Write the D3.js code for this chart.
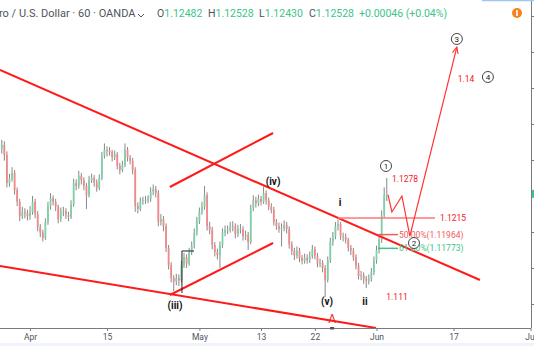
<!DOCTYPE html>
<html>
<head>
<meta charset="utf-8">
<script src="https://cdn.jsdelivr.net/npm/d3@7"></script>
<style>
  body { margin: 0; background: #fff; }
  svg { display: block; font-family: Roboto, "Noto Sans", sans-serif; }
</style>
</head>
<body>
<div id="chart"></div>
<script>
// EUR/USD 60 min, one candle here = 8 hours
const firstOpen = 1.1315;
const closes = [
  1.1321, 1.1307, 1.1268, 1.1274, 1.1282, 1.1258, 1.1242, 1.1222, 1.1228, 1.1226,
  1.1222, 1.1228, 1.1242, 1.1225, 1.1207, 1.1199, 1.1192, 1.1214, 1.1236, 1.1247,
  1.1242, 1.1235, 1.1218, 1.1228, 1.1229, 1.1224, 1.1221, 1.1238, 1.1268, 1.1264,
  1.1278, 1.1272, 1.1264, 1.1251, 1.1272, 1.1275, 1.1269, 1.1261, 1.1275, 1.1306,
  1.1314, 1.1313, 1.1311, 1.1304, 1.1308, 1.1292, 1.1286, 1.1293, 1.1314, 1.1303,
  1.1299, 1.1286, 1.1236, 1.1232, 1.1243, 1.1244, 1.1244, 1.1246, 1.1256, 1.1260,
  1.1254, 1.1214, 1.1218, 1.1208, 1.1178, 1.1154, 1.1136, 1.1131, 1.1136, 1.1133,
  1.1154, 1.1165, 1.1156, 1.1172, 1.1181, 1.1199, 1.1215, 1.1228, 1.1235, 1.1251,
  1.1208, 1.1203, 1.1182, 1.1172, 1.1168, 1.1182, 1.1199, 1.1203, 1.1203, 1.1207,
  1.1208, 1.1197, 1.1204, 1.1204, 1.1194, 1.1196, 1.1186, 1.1233, 1.1244, 1.1240,
  1.1246, 1.1242, 1.1254, 1.1244, 1.1235, 1.1231, 1.1214, 1.1208, 1.1204, 1.1206,
  1.1210, 1.1204, 1.1183, 1.1174, 1.1167, 1.1174, 1.1164, 1.1160, 1.1164, 1.1161,
  1.1167, 1.1176, 1.1167, 1.1156, 1.1157, 1.1150, 1.1133, 1.1161, 1.1186, 1.1194,
  1.1208, 1.1211, 1.1194, 1.1193, 1.1189, 1.1178, 1.1174, 1.1165, 1.1153, 1.1139,
  1.1140, 1.1135, 1.1132, 1.1135, 1.1144, 1.1161, 1.1175, 1.1189, 1.1224, 1.1251,
  1.1253
];
const highs = [
  1.1328, 1.1326, 1.1312, 1.1281, 1.1290, 1.1286, 1.1262, 1.1246, 1.1235, 1.1233,
  1.1231, 1.1236, 1.1250, 1.1246, 1.1229, 1.1211, 1.1203, 1.1219, 1.1242, 1.1254,
  1.1251, 1.1246, 1.1238, 1.1234, 1.1235, 1.1233, 1.1228, 1.1244, 1.1274, 1.1273,
  1.1285, 1.1282, 1.1276, 1.1268, 1.1278, 1.1281, 1.1279, 1.1273, 1.1280, 1.1311,
  1.1323, 1.1319, 1.1318, 1.1314, 1.1313, 1.1311, 1.1296, 1.1299, 1.1323, 1.1318,
  1.1307, 1.1303, 1.1290, 1.1241, 1.1248, 1.1249, 1.1250, 1.1251, 1.1262, 1.1266,
  1.1264, 1.1258, 1.1225, 1.1222, 1.1212, 1.1182, 1.1158, 1.1140, 1.1142, 1.1141,
  1.1160, 1.1171, 1.1169, 1.1178, 1.1187, 1.1205, 1.1221, 1.1234, 1.1242, 1.1264,
  1.1255, 1.1214, 1.1207, 1.1186, 1.1177, 1.1187, 1.1205, 1.1209, 1.1209, 1.1214,
  1.1215, 1.1212, 1.1210, 1.1211, 1.1208, 1.1202, 1.1200, 1.1238, 1.1251, 1.1249,
  1.1252, 1.1250, 1.1263, 1.1258, 1.1248, 1.1240, 1.1235, 1.1218, 1.1213, 1.1212,
  1.1216, 1.1214, 1.1208, 1.1187, 1.1178, 1.1180, 1.1178, 1.1168, 1.1170, 1.1169,
  1.1173, 1.1182, 1.1180, 1.1171, 1.1163, 1.1161, 1.1154, 1.1166, 1.1192, 1.1200,
  1.1214, 1.1217, 1.1214, 1.1199, 1.1198, 1.1192, 1.1182, 1.1178, 1.1169, 1.1157,
  1.1146, 1.1144, 1.1139, 1.1141, 1.1150, 1.1166, 1.1181, 1.1195, 1.1230, 1.1262,
  1.1275
];
const lows = [
  1.1309, 1.1299, 1.1262, 1.1263, 1.1270, 1.1252, 1.1236, 1.1215, 1.1218, 1.1219,
  1.1216, 1.1217, 1.1224, 1.1219, 1.1201, 1.1193, 1.1187, 1.1189, 1.1210, 1.1231,
  1.1237, 1.1229, 1.1212, 1.1214, 1.1222, 1.1218, 1.1215, 1.1218, 1.1235, 1.1258,
  1.1260, 1.1266, 1.1258, 1.1232, 1.1248, 1.1268, 1.1263, 1.1256, 1.1258, 1.1272,
  1.1302, 1.1305, 1.1306, 1.1298, 1.1300, 1.1287, 1.1280, 1.1283, 1.1290, 1.1298,
  1.1294, 1.1280, 1.1228, 1.1226, 1.1229, 1.1238, 1.1239, 1.1240, 1.1242, 1.1251,
  1.1248, 1.1208, 1.1209, 1.1201, 1.1172, 1.1148, 1.1130, 1.1118, 1.1126, 1.1125,
  1.1130, 1.1150, 1.1150, 1.1153, 1.1168, 1.1177, 1.1195, 1.1211, 1.1224, 1.1231,
  1.1202, 1.1197, 1.1176, 1.1166, 1.1162, 1.1150, 1.1178, 1.1194, 1.1197, 1.1199,
  1.1201, 1.1191, 1.1193, 1.1198, 1.1188, 1.1189, 1.1175, 1.1183, 1.1229, 1.1234,
  1.1236, 1.1237, 1.1239, 1.1238, 1.1230, 1.1226, 1.1209, 1.1203, 1.1199, 1.1180,
  1.1201, 1.1198, 1.1177, 1.1168, 1.1161, 1.1163, 1.1158, 1.1155, 1.1156, 1.1156,
  1.1157, 1.1163, 1.1162, 1.1151, 1.1151, 1.1144, 1.1110, 1.1130, 1.1157, 1.1181,
  1.1190, 1.1202, 1.1189, 1.1187, 1.1184, 1.1173, 1.1168, 1.1160, 1.1148, 1.1134,
  1.1133, 1.1128, 1.1122, 1.1127, 1.1131, 1.1140, 1.1156, 1.1170, 1.1185, 1.1220,
  1.1243
];

// date axis: candle index of each label
const dateTickIdx = [11, 41, 77, 101, 122, 146, 176, 206];
const dateTickLabels = ["Apr", "15", "May", "13", "22", "Jun", "17", "Jul"];
const priceTicks = [1.110, 1.115, 1.120, 1.125, 1.130, 1.135, 1.140, 1.145, 1.150];

// drawings: [index, price] pairs
const trendLines = [
  [[-0.7, 1.1425], [186.3, 1.11333]],
  [[-0.7, 1.11528], [145.8, 1.10667]],
  [[65.5, 1.11125], [105.7, 1.11847]],
  [[65.5, 1.12625], [105.7, 1.13375]]
];
const resistLine = [[131, 1.12194], [168.8, 1.12194]];
const stepLine = [[70.2, 1.11153], [70.2, 1.11736], [74.9, 1.11736]];
const projPath = [[150.5, 1.12514], [152, 1.12278], [155.9, 1.125], [159, 1.11944], [177.3, 1.14569]];
const fibLevels = [
  { price: 1.11964, label: "50.00%(1.11964)", color: "#f45b5b" },
  { price: 1.11773, label: "61.80%(1.11773)", color: "#3ec48a" }
];
const fibRange = [146.6, 154.4];
const waveLabels = [
  { t: "(iii)", i: 67.5, p: 1.10986 },
  { t: "(iv)", i: 105.7, p: 1.12708 },
  { t: "(v)", i: 126.7, p: 1.11028 },
  { t: "i", i: 131.8, p: 1.12403 },
  { t: "ii", i: 141.5, p: 1.11028 }
];
const circleLabels = [
  { t: "1", i: 149.7, p: 1.12917 },
  { t: "2", i: 160.6, p: 1.11847 },
  { t: "3", i: 177.3, p: 1.14681 },
  { t: "4", i: 189.4, p: 1.14153 }
];
const priceNotes = [
  { t: "1.1278", i: 157.1, p: 1.12736 },
  { t: "1.1215", i: 175.8, p: 1.12194 },
  { t: "1.14", i: 180.9, p: 1.14125 },
  { t: "1.111", i: 154, p: 1.11097 }
];
const markA = { t: "A", i: 128.7, p: 1.10792 };

const W = 534, H = 346, plotR = 531, plotB = 328;

const svg = d3.select("#chart").append("svg")
  .attr("width", W).attr("height", H);

const x = d3.scaleLinear().domain([11, 206]).range([30, 530.5]);
const y = d3.scaleLinear().domain([1.110, 1.150]).range([304, 16]);

svg.append("defs").append("clipPath").attr("id", "plot")
  .append("rect").attr("x", 0).attr("y", 0).attr("width", plotR).attr("height", plotB);

const plot = svg.append("g").attr("clip-path", "url(#plot)");

// candles
const candles = closes.map((c, i) => ({
  i: i,
  o: i === 0 ? firstOpen : closes[i - 1],
  h: highs[i], l: lows[i], c: c
}));

plot.selectAll(".wick").data(candles).enter().append("line")
  .attr("x1", d => x(d.i)).attr("x2", d => x(d.i))
  .attr("y1", d => y(d.h)).attr("y2", d => y(d.l))
  .attr("stroke", "#7a7a7a").attr("stroke-width", 0.9);

plot.selectAll(".body").data(candles).enter().append("rect")
  .attr("x", d => x(d.i) - 0.9)
  .attr("width", 1.8)
  .attr("y", d => y(Math.max(d.o, d.c)))
  .attr("height", d => Math.max(0.8, Math.abs(y(d.o) - y(d.c))))
  .attr("fill", d => d.c >= d.o ? "#7fd0a8" : "#f08a8a");

const line = d3.line().x(d => x(d[0])).y(d => y(d[1]));

// red trend lines
plot.selectAll(".trend").data(trendLines).enter().append("path")
  .attr("d", line).attr("fill", "none")
  .attr("stroke", "#ff1a1a").attr("stroke-width", 2);

plot.append("path").attr("d", line(resistLine)).attr("fill", "none")
  .attr("stroke", "#f77").attr("stroke-width", 1.5);

plot.append("path").attr("d", line(stepLine)).attr("fill", "none")
  .attr("stroke", "#222").attr("stroke-width", 1);

// projection path with arrow
svg.append("defs").append("marker").attr("id", "arr")
  .attr("viewBox", "0 0 10 10").attr("refX", 9).attr("refY", 5)
  .attr("markerWidth", 6).attr("markerHeight", 6).attr("orient", "auto")
  .append("path").attr("d", "M0,1 L9,5 L0,9").attr("fill", "none")
  .attr("stroke", "#f33").attr("stroke-width", 1.5);

plot.append("path").attr("d", line(projPath)).attr("fill", "none")
  .attr("stroke", "#f33").attr("stroke-width", 1.2)
  .attr("marker-end", "url(#arr)");

// fib levels
fibLevels.forEach(f => {
  plot.append("line")
    .attr("x1", x(fibRange[0])).attr("x2", x(fibRange[1]))
    .attr("y1", y(f.price)).attr("y2", y(f.price))
    .attr("stroke", f.color).attr("stroke-width", 1.5);
  plot.append("text").attr("x", x(fibRange[1]) + 1).attr("y", y(f.price))
    .attr("dy", "0.35em").attr("font-size", 8.5).attr("fill", f.color)
    .text(f.label);
});

// price notes
plot.selectAll(".note").data(priceNotes).enter().append("text")
  .attr("x", d => x(d.i)).attr("y", d => y(d.p)).attr("dy", "0.35em")
  .attr("text-anchor", "middle").attr("font-size", 8.5).attr("fill", "#e22")
  .text(d => d.t);

plot.append("text").attr("x", x(markA.i)).attr("y", y(markA.p)).attr("dy", "0.35em")
  .attr("text-anchor", "middle").attr("font-size", 12).attr("fill", "#e22")
  .text(markA.t);

// wave labels
plot.selectAll(".wave").data(waveLabels).enter().append("text")
  .attr("x", d => x(d.i)).attr("y", d => y(d.p)).attr("dy", "0.35em")
  .attr("text-anchor", "middle").attr("font-size", 10).attr("font-weight", "bold")
  .attr("fill", "#111").text(d => d.t);

// circled counts
const circ = plot.selectAll(".circ").data(circleLabels).enter().append("g")
  .attr("transform", d => "translate(" + x(d.i) + "," + y(d.p) + ")");
circ.append("circle").attr("r", 5.5).attr("fill", "#fff")
  .attr("stroke", "#444").attr("stroke-width", 1);
circ.append("text").attr("dy", "0.35em").attr("text-anchor", "middle")
  .attr("font-size", 8).attr("fill", "#222").text(d => d.t);

// axes
const xAxis = svg.append("g").attr("transform", "translate(0," + plotB + ")")
  .call(d3.axisBottom(x).tickValues(dateTickIdx)
    .tickFormat((d, k) => dateTickLabels[k]).tickSize(3).tickPadding(3));
xAxis.select(".domain").attr("stroke", "#787b86").attr("d", "M0,0.5H" + plotR);
xAxis.selectAll(".tick line").attr("stroke", "#787b86");
xAxis.selectAll("text").attr("font-size", 8.5).attr("fill", "#50535e")
  .attr("font-family", "Roboto, sans-serif");

// price scale labels sit beyond the window edge, only the ticks show
const yAxis = svg.append("g").attr("transform", "translate(" + plotR + ",0)")
  .call(d3.axisRight(y).tickValues(priceTicks).tickSize(4).tickFormat(""));
yAxis.select(".domain").attr("stroke", "#787b86").attr("d", "M0.5,0V" + plotB);
yAxis.selectAll(".tick line").attr("stroke", "#787b86");

// small marker under A on the axis
svg.append("rect").attr("x", x(markA.i) - 2).attr("y", plotB - 1)
  .attr("width", 4).attr("height", 2.5).attr("fill", "#555");

// last price tag on right edge
svg.append("rect").attr("x", plotR + 1).attr("y", y(closes[closes.length - 1]) - 4)
  .attr("width", 4).attr("height", 8).attr("fill", "#3ec48a");

// bottom strip
svg.append("rect").attr("x", 0).attr("y", 343).attr("width", W).attr("height", 3)
  .attr("fill", "#f0f3fa");

// header
svg.append("text").attr("x", -1).attr("y", 17)
  .attr("font-size", 11).attr("fill", "#50535e")
  .text("ro / U.S. Dollar \u00b7 60 \u00b7 OANDA");

svg.append("path").attr("d", "M138,14 l3,3 l3,-3").attr("fill", "none")
  .attr("stroke", "#50535e").attr("stroke-width", 1);

const ohlc = [["O", "1.12482", 157], ["H", "1.12528", 208], ["L", "1.12430", 259], ["C", "1.12528", 309]];
ohlc.forEach(o => {
  const t = svg.append("text").attr("x", o[2]).attr("y", 17).attr("font-size", 10.5);
  t.append("tspan").attr("fill", "#50535e").text(o[0]);
  t.append("tspan").attr("fill", "#3ec48a").text(o[1]);
});
svg.append("text").attr("x", 359).attr("y", 17).attr("font-size", 10.5)
  .attr("fill", "#3ec48a").text("+0.00046 (+0.04%)");

svg.append("circle").attr("cx", 517).attr("cy", 13).attr("r", 5).attr("fill", "#f7821b");
svg.append("rect").attr("x", 516.2).attr("y", 10).attr("width", 1.6).attr("height", 6)
  .attr("fill", "#fff");
svg.append("line").attr("x1", 482).attr("x2", W).attr("y1", 0.5).attr("y2", 0.5)
  .attr("stroke", "#9ec5f5").attr("stroke-width", 1.5);
</script>
</body>
</html>
